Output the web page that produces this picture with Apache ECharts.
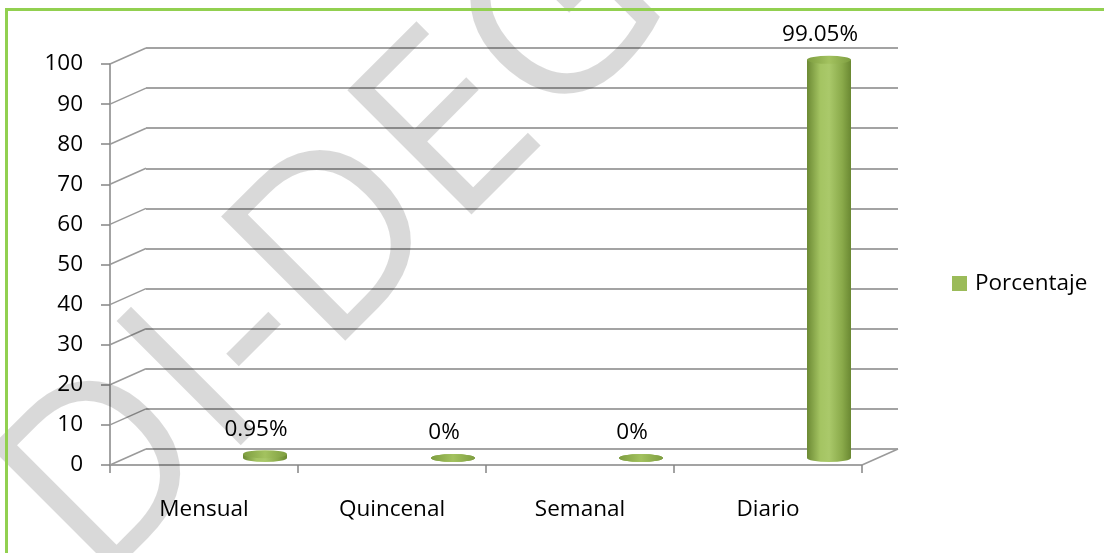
<!DOCTYPE html>
<html><head><meta charset="utf-8">
<script src="https://cdn.jsdelivr.net/npm/echarts@6/dist/echarts.min.js"></script>
<style>html,body{margin:0;padding:0;background:#fff}#c{width:1104px;height:553px}</style>
</head><body><div id="c"></div>
<script>
const categories = ['Mensual', 'Quincenal', 'Semanal', 'Diario'];
const porcentaje = [0.95, 0, 0, 99.05];
const yTicks = [0, 10, 20, 30, 40, 50, 60, 70, 80, 90, 100];
const seriesName = 'Porcentaje';
const watermarkText = 'DI-DEG';

const FONT = '"Open Sans", sans-serif';
const FS = 22.5;
const DX = 36, DY = -16;       // depth offset of the 3D back wall
const GRID_COLOR = '#858585';
const chart = echarts.init(document.getElementById('c'), null, { renderer: 'canvas' });

const barGradient = new echarts.graphic.LinearGradient(0, 0, 1, 0, [
  { offset: 0, color: '#6c8a34' },
  { offset: 0.3, color: '#a4c462' },
  { offset: 0.5, color: '#aac96a' },
  { offset: 0.8, color: '#8aaa4a' },
  { offset: 1, color: '#6a8832' }
]);
const topGradient = new echarts.graphic.LinearGradient(0, 0, 1, 0, [
  { offset: 0, color: '#7e9e40' },
  { offset: 0.5, color: '#a3c25f' },
  { offset: 1, color: '#7e9e40' }
]);

function ellipse(cx, cy, rx, ry, fill) {
  return { type: 'circle', x: cx, y: cy, scaleY: ry / rx, shape: { cx: 0, cy: 0, r: rx }, style: { fill: fill } };
}

const option = {
  animation: false,
  backgroundColor: '#fff',
  grid: [
    { left: 110, width: 752, top: 64, height: 401 },
    { left: 110 + DX, width: 752, top: 64 + DY, height: 401 },
    { left: 171, width: 752, top: 56, height: 402 }
  ],
  xAxis: [
    { gridIndex: 0, type: 'category', data: categories,
      axisLine: { lineStyle: { color: GRID_COLOR, width: 1.5 } },
      axisTick: { show: true, length: 8, interval: 0, lineStyle: { color: GRID_COLOR, width: 1.5 } },
      axisLabel: { margin: 33, fontSize: FS, fontFamily: FONT, color: '#000' } },
    { gridIndex: 1, type: 'category', data: categories, show: false },
    { gridIndex: 2, type: 'category', data: categories, show: false }
  ],
  yAxis: [
    { gridIndex: 0, type: 'value', min: 0, max: 100, interval: 10,
      axisLine: { show: true, lineStyle: { color: GRID_COLOR, width: 1.5 } },
      axisTick: { show: true, length: 9, lineStyle: { color: GRID_COLOR, width: 1.5 } },
      splitLine: { show: false },
      axisLabel: { margin: 27, fontSize: FS, fontFamily: FONT, color: '#000' } },
    { gridIndex: 1, type: 'value', min: 0, max: 100, interval: 10,
      axisLine: { show: false }, axisTick: { show: false }, axisLabel: { show: false },
      splitLine: { show: true, lineStyle: { color: GRID_COLOR, width: 1.6 } } },
    { gridIndex: 2, type: 'value', min: 0, max: 100, interval: 10, show: false, splitLine: { show: false } }
  ],
  legend: {
    data: [{ name: seriesName, icon: 'rect' }],
    left: 952, top: 272, padding: 0, itemWidth: 15, itemHeight: 15, selectedMode: false,
    textStyle: { fontSize: FS, fontFamily: FONT, color: '#000', padding: [0, 0, 0, 3] }
  },
  series: [
    {
      type: 'custom', name: 'connectors', xAxisIndex: 0, yAxisIndex: 0, silent: true,
      data: yTicks.map(v => [0, v]),
      renderItem: function (params, api) {
        const v = api.value(1);
        const c = api.coord([0, v]);
        const half = api.size([1, 0])[0] / 2;
        const x0 = c[0] - half;
        const kids = [{ type: 'line', shape: { x1: x0, y1: c[1], x2: x0 + DX, y2: c[1] + DY },
          style: { stroke: '#9a9a9a', lineWidth: 1.5 } }];
        if (v === 0) {
          const xr = api.coord([categories.length - 1, 0])[0] + half;
          kids.push({ type: 'line', shape: { x1: xr, y1: c[1], x2: xr + DX, y2: c[1] + DY },
            style: { stroke: '#9a9a9a', lineWidth: 1.5 } });
        }
        return { type: 'group', children: kids };
      }
    },
    {
      type: 'custom', name: seriesName, xAxisIndex: 2, yAxisIndex: 2,
      itemStyle: { color: '#9bbb59' },
      data: porcentaje.map((v, i) => [i, v]),
      renderItem: function (params, api) {
        const i = api.value(0), v = api.value(1);
        const top = api.coord([i, v]);
        const base = api.coord([i, 0]);
        const rx = 22, ry = 4;
        const cx = top[0];
        const kids = [
          ellipse(cx, base[1], rx, ry, barGradient),
          { type: 'rect', shape: { x: cx - rx, y: top[1], width: 2 * rx, height: base[1] - top[1] }, style: { fill: barGradient } },
          ellipse(cx, top[1], rx, ry, topGradient),
          { type: 'text', x: cx - 9, y: top[1] - 25,
            style: { text: v + '%', fontSize: FS, fontFamily: FONT, fill: '#000', align: 'center', verticalAlign: 'middle' } }
        ];
        return { type: 'group', children: kids };
      }
    }
  ],
  graphic: [
    { type: 'rect', silent: true, z: 200, shape: { x: 6.5, y: 9.5, width: 1200, height: 700 },
      style: { fill: null, stroke: '#92d050', lineWidth: 3 } },
    { type: 'text', silent: true, z: 150, x: 48, y: 539, rotation: Math.PI / 4,
      style: { text: watermarkText, fontSize: 246, fontFamily: '"Open Sans", sans-serif', fill: 'rgba(0,0,0,0.15)', align: 'left', verticalAlign: 'middle' } }
  ]
};
chart.setOption(option);
</script>
</body></html>
